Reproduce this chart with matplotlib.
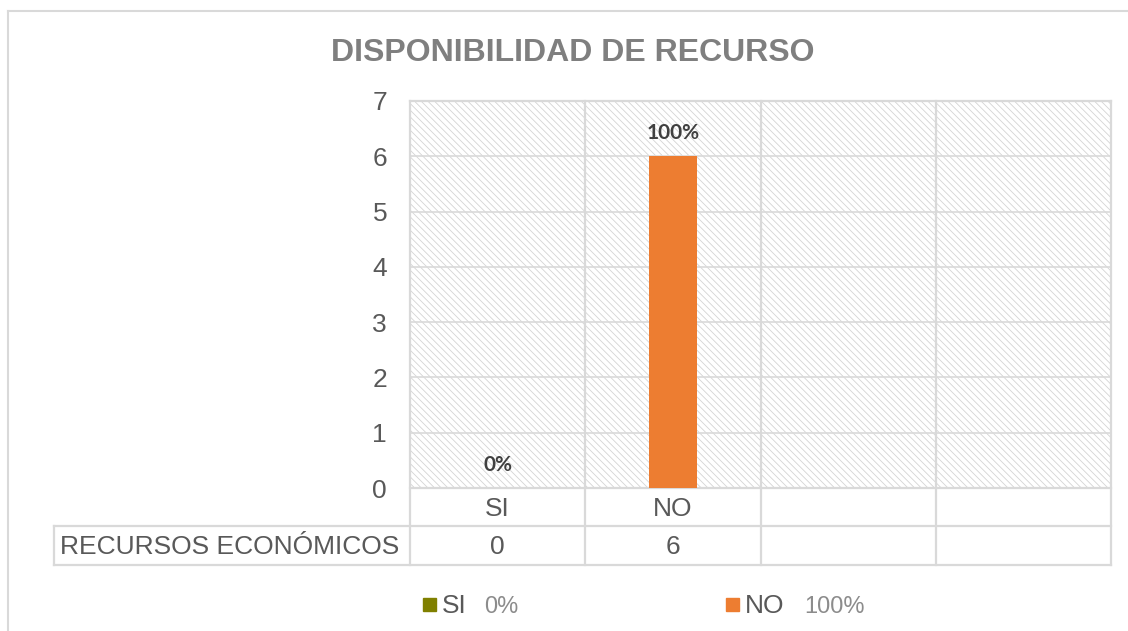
import matplotlib
matplotlib.use("Agg")
import matplotlib.pyplot as plt
from matplotlib.patches import Rectangle
from matplotlib.lines import Line2D
import matplotlib.transforms as mtransforms

# ---- data ----
title = "DISPONIBILIDAD DE RECURSO"
categories = ["SI", "NO", "", ""]
values = [0, 6, None, None]
bar_labels = ["0%", "100%"]
series_names = ["SI", "NO"]
series_pcts = ["0%", "100%"]
series_colors = ["#808000", "#ED7D31"]
row_label = "RECURSOS ECONÓMICOS"
yticks = [0, 1, 2, 3, 4, 5, 6, 7]

W, H = 1128, 631
fig = plt.figure(figsize=(W / 100, H / 100), dpi=100)
plt.rcParams["font.family"] = ["Liberation Sans", "DejaVu Sans"]
plt.rcParams["hatch.linewidth"] = 0.6

grid_c = "#d9d9d9"
txt_c = "#595959"
fs = 19

# plot area in pixels
L, R, T, B = 410, 1111, 101, 488
ax = fig.add_axes([L / W, 1 - B / H, (R - L) / W, (B - T) / H])
ax.set_xlim(-0.5, len(categories) - 0.5)
ax.set_ylim(0, 7)
for s in ax.spines.values():
    s.set_visible(False)

# hatched background
ax.add_patch(Rectangle((0, 0), 1, 1, transform=ax.transAxes, facecolor="white",
                       edgecolor="#d4d4d4", hatch="\\\\\\\\\\", lw=0, zorder=0))
ax.set_axisbelow(True)
ax.set_yticks(yticks)
ax.yaxis.grid(True, color=grid_c, lw=1.2)
ax.tick_params(axis="y", length=0, pad=16.5, labelsize=fs, labelcolor=txt_c)
ax.set_xticks([])

# bars
xs = list(range(len(categories)))
for i, (v, c) in enumerate(zip(values[:2], series_colors)):
    ax.bar(xs[i], v, width=0.274, color=c, zorder=3)
    ax.annotate(bar_labels[i], (xs[i], v), xytext=(0, 12.3), textcoords="offset points",
                ha="center", va="baseline", fontsize=15, fontweight="bold",
                color="#404040", family=["Lato", "DejaVu Sans"])

# data table
px_per_y = (B - T)
row1 = -(526 - B) / px_per_y
row2 = -(565 - B) / px_per_y
lab_left = -0.5 - (L - 54) / ((R - L) / len(categories))
blend = mtransforms.blended_transform_factory(ax.transData, ax.transAxes)
lk = dict(color=grid_c, lw=1.6, transform=blend, clip_on=False, zorder=1)
for xb in [x - 0.5 for x in xs] + [xs[-1] + 0.5]:
    ax.add_line(Line2D([xb, xb], [row2, 1], **lk))
ax.add_line(Line2D([-0.5, xs[-1] + 0.5], [1, 1], **lk))
ax.add_line(Line2D([-0.5, xs[-1] + 0.5], [0, 0], **lk))
ax.add_line(Line2D([lab_left, xs[-1] + 0.5], [row1, row1], **lk))
ax.add_line(Line2D([lab_left, xs[-1] + 0.5], [row2, row2], **lk))
ax.add_line(Line2D([lab_left, lab_left], [row2, row1], **lk))

base1 = -(516 - B) / px_per_y
base2 = -(554 - B) / px_per_y
for i, cat in enumerate(categories):
    ax.text(xs[i], base1, cat, transform=blend, ha="center", va="baseline",
            fontsize=fs, color=txt_c)
    if values[i] is not None:
        ax.text(xs[i], base2, str(values[i]), transform=blend, ha="center",
                va="baseline", fontsize=fs, color=txt_c)
ax.text(60 / W, 1 - 554 / H, row_label, transform=fig.transFigure, ha="left",
        va="baseline", fontsize=fs, color=txt_c)

# title
fig.text(573 / W, 1 - 61 / H, title, ha="center", va="baseline", fontsize=23,
         fontweight="bold", color="#7f7f7f")

# outer chart border (left + top)
fig.add_artist(Line2D([8 / W, 8 / W], [0, 1 - 11 / H], color=grid_c, lw=1.5,
                      transform=fig.transFigure))
fig.add_artist(Line2D([8 / W, 1], [1 - 11 / H, 1 - 11 / H], color=grid_c, lw=1.5,
                      transform=fig.transFigure))

# legend
leg_x = [423, 726]
for name, pct, c, lx in zip(series_names, series_pcts, series_colors, leg_x):
    fig.add_artist(Rectangle((lx / W, 1 - 611 / H), 13 / W, 13 / H, color=c,
                             transform=fig.transFigure))
    fig.text((lx + 19) / W, 1 - 613 / H, name, ha="left", va="baseline",
             fontsize=fs, color=txt_c)
    fig.text((lx + (61 if name == "SI" else 78)) / W, 1 - 613 / H, pct, ha="left",
             va="baseline", fontsize=17, color="#8c8c8c")

fig.savefig("out.png", dpi=100)
